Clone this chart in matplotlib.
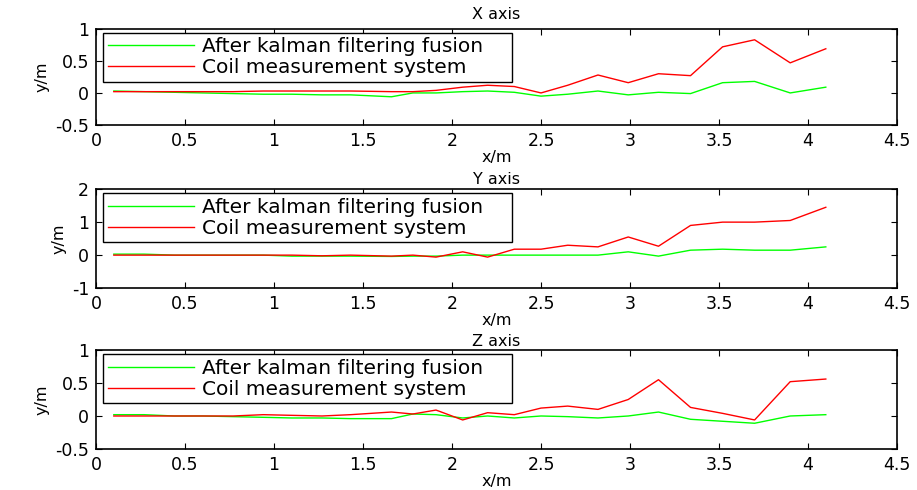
import matplotlib
matplotlib.use('Agg')
from matplotlib import pyplot as plt

plt.rcParams['font.family'] = ['DejaVu Sans']

# sample positions along the track (m)
x_pos = [0.1, 0.27, 0.44, 0.6, 0.77, 0.94, 1.1, 1.27, 1.43, 1.66, 1.78, 1.91, 2.06,
         2.2, 2.35, 2.5, 2.65, 2.82, 2.99, 3.16, 3.34, 3.52, 3.7, 3.9, 4.1]

# X axis
x_kalman = [0.03, 0.02, 0.01, 0.0, -0.01, -0.02, -0.02, -0.03, -0.03, -0.06, 0.0, 0.0, 0.02,
            0.03, 0.01, -0.05, -0.02, 0.03, -0.03, 0.01, -0.01, 0.16, 0.18, 0.0, 0.09]
x_coil = [0.02, 0.02, 0.02, 0.02, 0.02, 0.03, 0.03, 0.03, 0.03, 0.02, 0.02, 0.04, 0.09,
          0.12, 0.1, 0.0, 0.12, 0.28, 0.16, 0.3, 0.27, 0.72, 0.83, 0.47, 0.69]

# Y axis
y_kalman = [0.03, 0.03, 0.0, 0.0, 0.0, 0.0, -0.03, -0.03, -0.03, -0.04, -0.03, -0.03, 0.0,
            0.0, 0.0, 0.0, 0.0, 0.0, 0.1, -0.03, 0.15, 0.18, 0.15, 0.15, 0.25]
y_coil = [0.0, 0.0, 0.0, 0.0, 0.0, 0.0, 0.0, -0.02, 0.0, -0.03, 0.0, -0.06, 0.1,
          -0.06, 0.18, 0.18, 0.3, 0.25, 0.55, 0.27, 0.9, 1.0, 1.0, 1.05, 1.45]

# Z axis
z_kalman = [0.02, 0.02, 0.0, 0.0, -0.01, -0.02, -0.03, -0.03, -0.04, -0.04, 0.03, 0.02, -0.03,
            0.0, -0.03, 0.0, -0.01, -0.03, 0.0, 0.06, -0.05, -0.08, -0.11, 0.0, 0.02]
z_coil = [0.0, 0.0, 0.0, 0.0, 0.0, 0.02, 0.01, 0.0, 0.02, 0.06, 0.03, 0.09, -0.06,
          0.05, 0.02, 0.12, 0.15, 0.1, 0.25, 0.55, 0.13, 0.04, -0.06, 0.52, 0.56]

titles = ['X axis', 'Y axis', 'Z axis']
series = [(x_kalman, x_coil), (y_kalman, y_coil), (z_kalman, z_coil)]
ylims = [(-0.5, 1), (-1, 2), (-0.5, 1)]
yticks = [[-0.5, 0, 0.5, 1], [-1, 0, 1, 2], [-0.5, 0, 0.5, 1]]
ytick_labels = [['-0.5', '0', '0.5', '1'], ['-1', '0', '1', '2'], ['-0.5', '0', '0.5', '1']]
xticks = [0, 0.5, 1, 1.5, 2, 2.5, 3, 3.5, 4, 4.5]
xtick_labels = ['0', '0.5', '1', '1.5', '2', '2.5', '3', '3.5', '4', '4.5']

fig = plt.figure(figsize=(9.17, 4.9), dpi=100)
boxes = [[0.1047, 0.745, 0.8735, 0.196],
         [0.1047, 0.412, 0.8735, 0.202],
         [0.1047, 0.0837, 0.8735, 0.202]]
title_pads = [7, 4, 3]

for i in range(3):
    ax = fig.add_axes(boxes[i])
    kal, coil = series[i]
    ax.plot(x_pos, kal, color=(0, 1, 0), lw=1, label='After kalman filtering fusion')
    ax.plot(x_pos, coil, color=(1, 0, 0), lw=1, label='Coil measurement system')
    ax.set_xlim(0, 4.5)
    ax.set_ylim(*ylims[i])
    ax.set_xticks(xticks)
    ax.set_xticklabels(xtick_labels)
    ax.set_yticks(yticks[i])
    ax.set_yticklabels(ytick_labels[i])
    ax.tick_params(direction='in', top=True, right=True, labelsize=12.5, length=4, width=0.8, pad=5)
    for s in ax.spines.values():
        s.set_linewidth(1.2)
    ax.set_title(titles[i], fontsize=11.5, pad=title_pads[i])
    ax.set_xlabel('x/m', fontsize=11.5, labelpad=0)
    ax.set_ylabel('y/m', fontsize=11.5, labelpad=4)
    leg = ax.legend(loc='upper left', bbox_to_anchor=(0.009, 0.49, 0.51, 0.468), mode='expand',
                    fontsize=14.5, fancybox=False, framealpha=1, edgecolor='black',
                    handlelength=4.3, borderaxespad=0, borderpad=0.22,
                    labelspacing=0.1, handletextpad=0.4)
    leg.get_frame().set_linewidth(1.0)

fig.savefig('out.png', dpi=100)
